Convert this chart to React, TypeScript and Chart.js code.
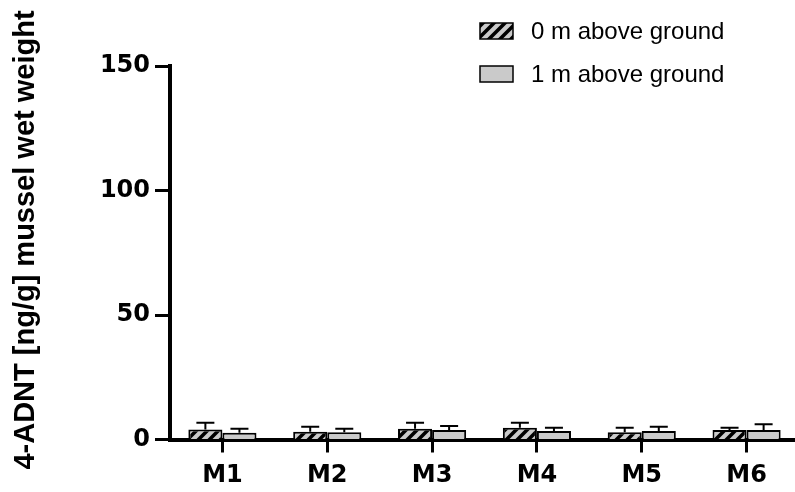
import React, { useEffect, useRef } from "react";
import { Chart, registerables } from "chart.js";

Chart.register(...registerables);

const categories = ["M1", "M2", "M3", "M4", "M5", "M6"];
const seriesNames = ["0 m above ground", "1 m above ground"];
const mean0m = [4.0, 3.1, 4.3, 4.7, 2.9, 3.8];
const sd0m = [2.7, 2.0, 2.4, 2.0, 1.8, 0.9];
const mean1m = [2.7, 2.9, 3.8, 3.4, 3.4, 3.8];
const sd1m = [1.6, 1.4, 1.6, 1.3, 1.7, 2.3];
const yMin = 0;
const yMax = 150;
const yStep = 50;
const yTitle = "4-ADNT [ng/g] mussel wet weight";

const GRAY = "#cacaca";

function makeHatch(): CanvasPattern | string {
  const c = document.createElement("canvas");
  const s = 11;
  c.width = s;
  c.height = s;
  const ctx = c.getContext("2d");
  if (!ctx) return GRAY;
  ctx.fillStyle = GRAY;
  ctx.fillRect(0, 0, s, s);
  ctx.strokeStyle = "#000";
  ctx.lineWidth = 3.6;
  ctx.lineCap = "square";
  ctx.beginPath();
  ctx.moveTo(0, s);
  ctx.lineTo(s, 0);
  ctx.moveTo(-s / 2, s / 2);
  ctx.lineTo(s / 2, -s / 2);
  ctx.moveTo(s / 2, s * 1.5);
  ctx.lineTo(s * 1.5, s / 2);
  ctx.stroke();
  const p = ctx.createPattern(c, "repeat");
  return p || GRAY;
}

export default function App() {
  const ref = useRef<HTMLCanvasElement | null>(null);

  useEffect(() => {
    const canvas = ref.current;
    if (!canvas) return;
    const hatch = makeHatch();
    const sds = [sd0m, sd1m];
    const fills = [hatch, GRAY];

    const errorBars = {
      id: "errorBars",
      afterDatasetsDraw(chart: any) {
        const ctx = chart.ctx;
        const y = chart.scales.y;
        ctx.save();
        ctx.strokeStyle = "#000";
        ctx.lineWidth = 2;
        chart.data.datasets.forEach((ds: any, d: number) => {
          const meta = chart.getDatasetMeta(d);
          meta.data.forEach((bar: any, i: number) => {
            const top = y.getPixelForValue(ds.data[i] + sds[d][i]);
            const x = bar.x;
            ctx.beginPath();
            ctx.moveTo(x, bar.y);
            ctx.lineTo(x, top);
            ctx.moveTo(x - 9, top);
            ctx.lineTo(x + 9, top);
            ctx.stroke();
          });
        });
        ctx.restore();
      },
    };

    const decorPlugin = {
      id: "decor",
      afterDraw(chart: any) {
        const ctx = chart.ctx;
        ctx.save();
        // legend
        const bx = 480;
        const rows = [23, 66];
        seriesNames.forEach((name, i) => {
          const by = rows[i];
          ctx.fillStyle = fills[i];
          ctx.fillRect(bx, by, 33, 16);
          ctx.strokeStyle = "#000";
          ctx.lineWidth = 1.5;
          ctx.strokeRect(bx, by, 33, 16);
          ctx.fillStyle = "#000";
          ctx.font = '24px "Liberation Sans", Arial, sans-serif';
          ctx.textBaseline = "middle";
          ctx.textAlign = "left";
          ctx.fillText(name, 531, by + 9);
        });
        // y title
        ctx.translate(26, 240);
        ctx.rotate(-Math.PI / 2);
        ctx.font = 'bold 29px "Liberation Sans", Arial, sans-serif';
        ctx.textAlign = "center";
        ctx.textBaseline = "middle";
        ctx.fillStyle = "#000";
        ctx.fillText(yTitle, 0, 0);
        ctx.restore();
      },
    };

    const tickFont = { family: '"DejaVu Sans", sans-serif', weight: "bold" as const, size: 24 };

    const chart = new Chart(canvas, {
      type: "bar",
      data: {
        labels: categories,
        datasets: [
          {
            label: seriesNames[0],
            data: mean0m,
            backgroundColor: hatch as any,
            borderColor: "#000",
            borderWidth: 2,
          },
          {
            label: seriesNames[1],
            data: mean1m,
            backgroundColor: GRAY,
            borderColor: "#000",
            borderWidth: 2,
          },
        ],
      },
      options: {
        responsive: false,
        animation: false,
        devicePixelRatio: 1,
        layout: { padding: { top: 66, right: 11, left: 0, bottom: 0 } },
        datasets: { bar: { barPercentage: 1, categoryPercentage: 0.65 } },
        plugins: { legend: { display: false }, tooltip: { enabled: false } },
        scales: {
          x: {
            type: "category",
            offset: true,
            z: 1,
            grid: {
              display: true,
              drawOnChartArea: false,
              drawTicks: true,
              tickLength: 13,
              tickWidth: 3,
              tickColor: "#000",
              offset: false,
            },
            border: { display: true, color: "#000", width: 4 },
            ticks: { color: "#000", font: tickFont, padding: 9, maxRotation: 0 },
            afterFit: (s: any) => {
              s.height = 52.5;
            },
          },
          y: {
            min: yMin,
            max: yMax,
            grid: {
              drawOnChartArea: false,
              drawTicks: true,
              tickLength: 15,
              tickWidth: 3,
              tickColor: "#000",
            },
            border: { display: true, color: "#000", width: 4 },
            ticks: { stepSize: yStep, color: "#000", font: tickFont, padding: 5 },
            title: { display: false },
            afterFit: (s: any) => {
              s.width = 170;
            },
          },
        },
      } as any,
      plugins: [errorBars, decorPlugin],
    });
    return () => chart.destroy();
  }, []);

  return (
    <div
      style={{
        position: "absolute",
        left: 0,
        top: 0,
        width: 795,
        height: 492,
        overflow: "hidden",
        background: "#fff",
      }}
    >
      <canvas ref={ref} width={810} height={492} style={{ display: "block" }} />
    </div>
  );
}
